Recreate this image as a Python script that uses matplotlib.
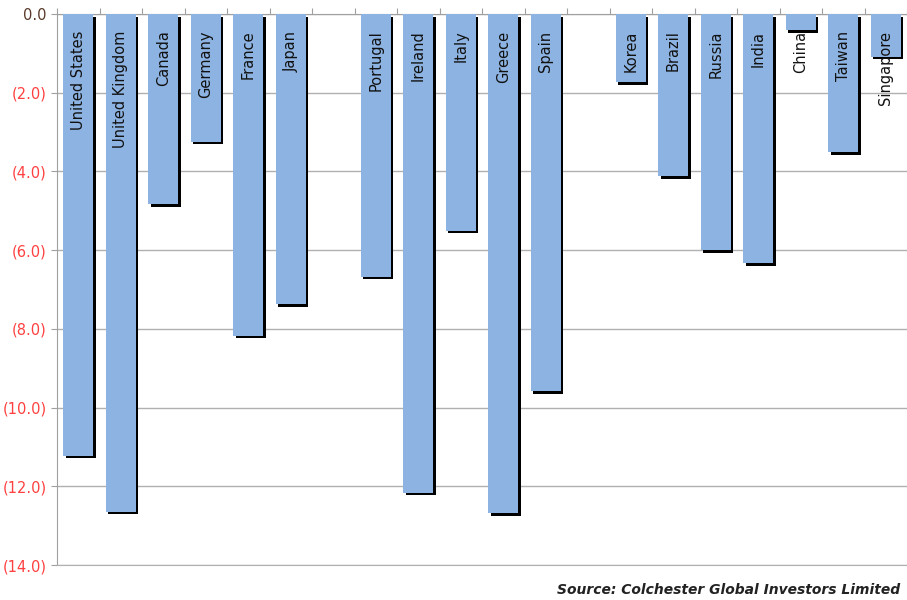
import matplotlib
matplotlib.use('Agg')
import matplotlib.pyplot as plt
import matplotlib.patheffects as pe
import numpy as np

countries = ['United States', 'United Kingdom', 'Canada', 'Germany', 'France', 'Japan', '',
             'Portugal', 'Ireland', 'Italy', 'Greece', 'Spain', '',
             'Korea', 'Brazil', 'Russia', 'India', 'China', 'Taiwan', 'Singapore']
values = [-11.23, -12.65, -4.83, -3.25, -8.18, -7.37, None,
          -6.68, -12.17, -5.51, -12.68, -9.58, None,
          -1.73, -4.12, -6.0, -6.33, -0.41, -3.51, -1.09]
yticks = [0, -2, -4, -6, -8, -10, -12, -14]

fig = plt.figure(figsize=(9.07, 6), dpi=100)
ax = fig.add_axes([57/907, 35/600, 1 - 57/907, 551/600])

x = np.arange(len(countries))
for i in range(len(countries)):
    if values[i] is None:
        continue
    b = ax.bar(x[i], values[i], width=0.7, color='#8DB3E2', zorder=3)
    b[0].set_path_effects([pe.SimplePatchShadow(offset=(1.8, -1.8), shadow_rgbFace='black', alpha=1.0),
                           pe.Normal()])
    ax.text(x[i], -0.42, countries[i], rotation=90, ha='center', va='top',
            fontsize=10.5, color='#111111', zorder=5)

ax.set_xlim(-0.5, len(countries) - 0.5)
ax.set_ylim(-14, 0)
ax.set_yticks(yticks)
ax.set_yticklabels(['0.0' if v == 0 else '(%.1f)' % abs(v) for v in yticks])
ax.tick_params(axis='y', colors='#A0A0A0', labelcolor='#FF4040', labelsize=10.5, length=4)
for t in ax.get_yticklabels()[:1]:
    t.set_color('#5A3A2A')

ax.set_xticks(np.arange(len(countries) + 1) - 0.5)
ax.xaxis.tick_top()
ax.tick_params(axis='x', colors='#A0A0A0', labeltop=False, length=4)

ax.grid(axis='y', color='#B0B0B0', linewidth=1, zorder=0)
ax.spines['right'].set_visible(False)
ax.spines['bottom'].set_color('#B0B0B0')
ax.spines['left'].set_color('#A0A0A0')
ax.spines['top'].set_color('#A0A0A0')

fig.text(0.992, 0.005, 'Source: Colchester Global Investors Limited', ha='right', va='bottom',
         fontsize=10, fontweight='bold', fontstyle='italic', color='#222222')

fig.savefig('out.png', dpi=100)
